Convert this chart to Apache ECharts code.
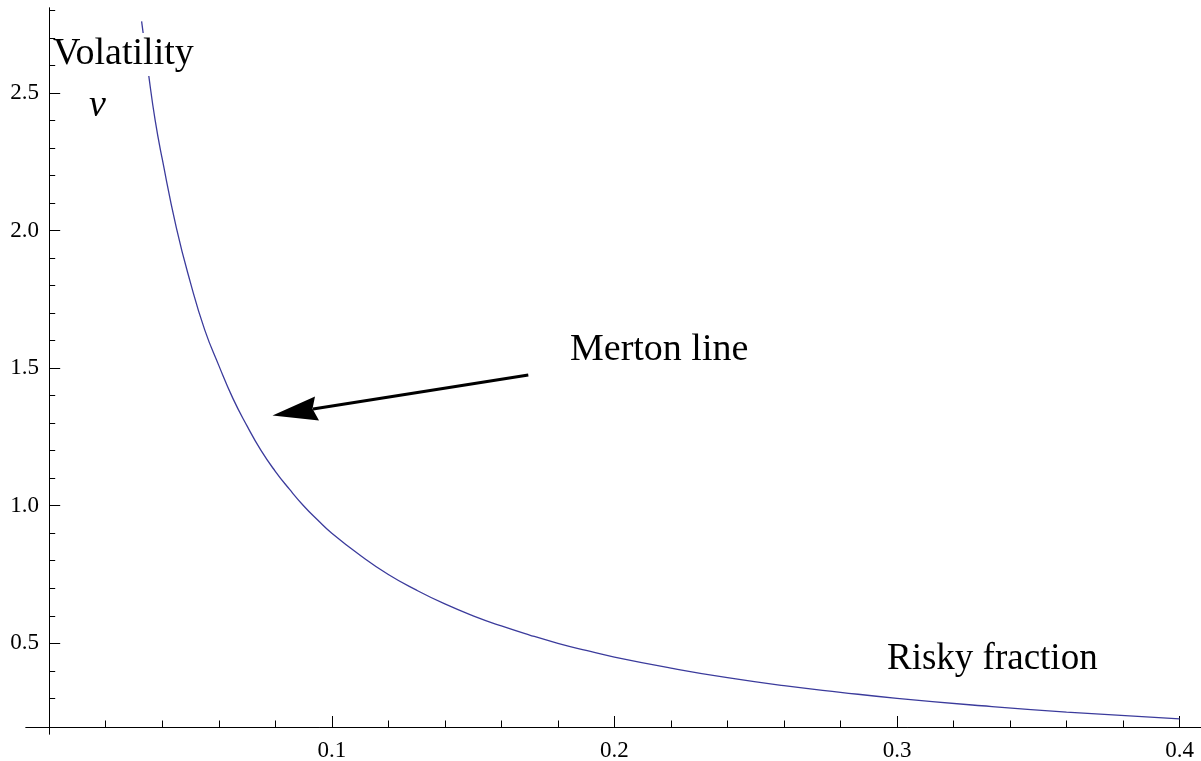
<!DOCTYPE html>
<html>
<head>
<meta charset="utf-8">
<script src="https://cdn.jsdelivr.net/npm/echarts@6/dist/echarts.min.js"></script>
<style>
  html, body { margin: 0; padding: 0; background: #ffffff; }
  #chart { width: 1201px; height: 761px; }
</style>
</head>
<body>
<div id="chart"></div>
<script>
// Merton line: volatility against the risky fraction of the portfolio
const riskyFraction = [0.0327, 0.035, 0.0375, 0.04, 0.045, 0.05, 0.055, 0.06, 0.065, 0.07,
                       0.075, 0.08, 0.085, 0.09, 0.095, 0.10, 0.11, 0.12, 0.13, 0.14,
                       0.15, 0.16, 0.17, 0.18, 0.19, 0.20, 0.22, 0.24, 0.26, 0.28,
                       0.30, 0.33, 0.36, 0.40];
const volatility    = [2.76, 2.58, 2.40, 2.26, 2.01, 1.81, 1.64, 1.51, 1.39, 1.29,
                       1.20, 1.125, 1.06, 1.00, 0.948, 0.90, 0.82, 0.75, 0.693, 0.643,
                       0.60, 0.563, 0.53, 0.50, 0.474, 0.45, 0.41, 0.375, 0.346, 0.322,
                       0.30, 0.273, 0.25, 0.225];

// Axis ticks and labels
const xMajorTicks = [0.1, 0.2, 0.3, 0.4];
const xMinorTicks = [0.02, 0.04, 0.06, 0.08, 0.12, 0.14, 0.16, 0.18, 0.22, 0.24,
                     0.26, 0.28, 0.32, 0.34, 0.36, 0.38];
const yMajorTicks = [0.5, 1.0, 1.5, 2.0, 2.5];
const yMinorTicks = [0.3, 0.4, 0.6, 0.7, 0.8, 0.9, 1.1, 1.2, 1.3, 1.4, 1.6, 1.7, 1.8,
                     1.9, 2.1, 2.2, 2.3, 2.4, 2.6, 2.7, 2.8];

const SERIF = '"Liberation Serif", "DejaVu Serif", serif';
const X_RANGE = [-0.00821, 0.40757];
const Y_RANGE = [0.1704, 2.8087];

const chart = echarts.init(document.getElementById('chart'), null, { renderer: 'canvas' });

const tickFont = { fontFamily: SERIF, fontSize: 23, color: '#000' };

function xAxisDef(ticks, len, withLabels) {
  return {
    type: 'value', position: 'bottom', offset: -7,
    min: X_RANGE[0], max: X_RANGE[1],
    axisLine: { show: true, onZero: false, lineStyle: { color: '#000', width: 1 } },
    splitLine: { show: false },
    axisTick: { show: true, inside: true, length: len, customValues: ticks,
                lineStyle: { color: '#000', width: 1 } },
    axisLabel: withLabels
      ? Object.assign({ show: true, margin: 12, customValues: ticks,
                        formatter: v => v.toFixed(1) }, tickFont)
      : { show: false }
  };
}

// The vertical axis sits at x = 0; its labels are measured from the grid's left edge.
function yAxisDef(ticks, len, withLabels) {
  return {
    type: 'value', position: 'left',
    min: Y_RANGE[0], max: Y_RANGE[1],
    axisLine: { show: true, onZero: true, lineStyle: { color: '#000', width: 1 } },
    splitLine: { show: false },
    axisTick: { show: true, inside: true, length: len, customValues: ticks,
                lineStyle: { color: '#000', width: 1 } },
    axisLabel: withLabels
      ? Object.assign({ show: true, margin: -13, customValues: ticks,
                        formatter: v => v.toFixed(1) }, tickFont)
      : { show: false }
  };
}

chart.setOption({
  animation: false,
  backgroundColor: '#ffffff',
  grid: { left: 26, right: 0, top: 8, bottom: 27, containLabel: false,
          outerBoundsMode: 'none' },
  xAxis: [xAxisDef(xMinorTicks, 6.5, false), xAxisDef(xMajorTicks, 11, true)],
  yAxis: [yAxisDef(yMinorTicks, 6, false), yAxisDef(yMajorTicks, 11, true)],
  series: [{
    type: 'line',
    xAxisIndex: 0, yAxisIndex: 0,
    data: riskyFraction.map((f, i) => [f, volatility[i]]),
    showSymbol: false,
    smooth: 0.5,
    lineStyle: { color: '#3b3b9c', width: 1.3 },
    z: 2
  }],
  graphic: { elements: [
    // axis names with a white backing where they cross the curve
    { type: 'rect', z: 20, shape: { x: 110, y: 33, width: 86, height: 43 },
      style: { fill: '#ffffff' } },
    { type: 'text', z: 21, x: 53, y: 54.5,
      style: { text: 'Volatility', font: '38px ' + SERIF, fill: '#000',
               align: 'left', verticalAlign: 'middle' } },
    { type: 'text', z: 21, x: 97.5, y: 106,
      style: { text: 'ν', font: 'italic 38px ' + SERIF, fill: '#000',
               align: 'center', verticalAlign: 'middle' } },
    { type: 'text', z: 21, x: 570, y: 350,
      style: { text: 'Merton line', font: '38px ' + SERIF, fill: '#000',
               align: 'left', verticalAlign: 'middle' } },
    { type: 'text', z: 21, x: 887, y: 659,
      style: { text: 'Risky fraction', font: '37px ' + SERIF, fill: '#000',
               align: 'left', verticalAlign: 'middle' } },
    // arrow pointing at the curve
    { type: 'line', z: 21, shape: { x1: 528.3, y1: 375, x2: 313, y2: 409 },
      style: { stroke: '#000', lineWidth: 3 } },
    { type: 'polygon', z: 22,
      shape: { points: [[272.5, 415.5], [315, 396.5], [312.5, 408.8], [319, 420.5]] },
      style: { fill: '#000' } }
  ]}
});
</script>
</body>
</html>
